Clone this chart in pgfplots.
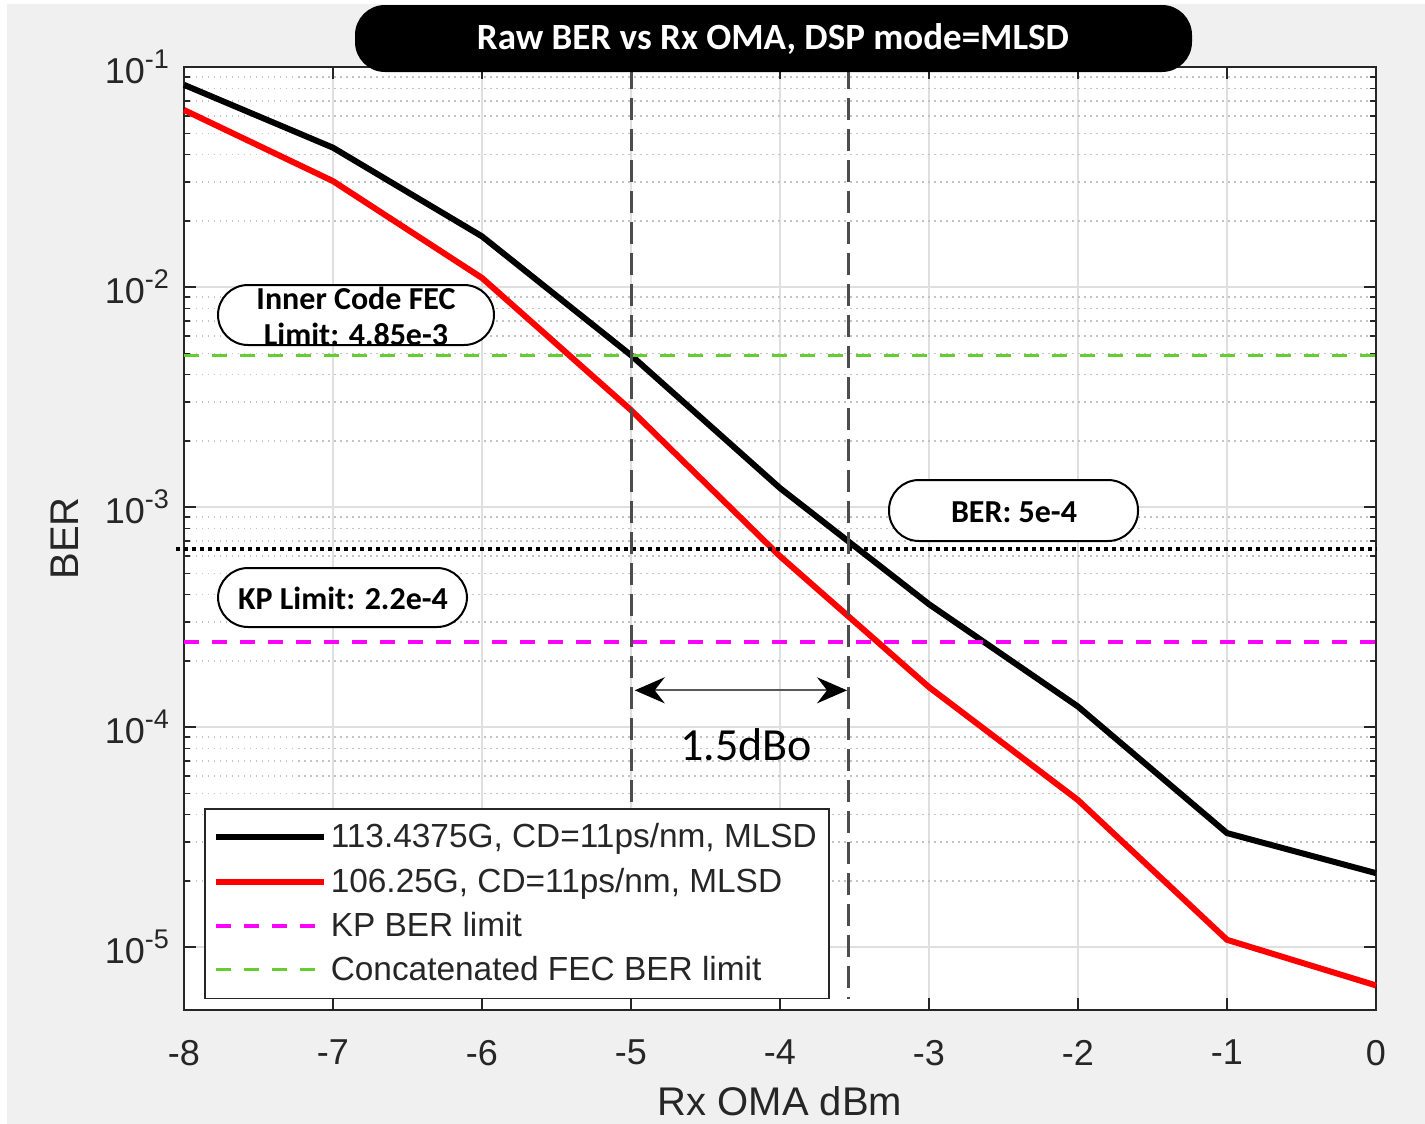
\documentclass[border=0pt]{standalone}
\usepackage{pgfplots}
\pgfplotsset{compat=1.18}
\usepackage{fontspec}
\setmainfont{Liberation Sans}
\newfontfamily\calfont{Carlito}
\usetikzlibrary{arrows.meta}
\definecolor{bg}{RGB}{240,240,240}
\definecolor{axgray}{RGB}{38,38,38}
\definecolor{gridmaj}{RGB}{223,223,223}
\definecolor{gridmin}{RGB}{195,195,195}
\definecolor{fecgreen}{RGB}{102,204,51}
\definecolor{kpmag}{RGB}{255,0,255}
\definecolor{vgray}{RGB}{77,77,77}
\newcommand\ee[1]{10\raisebox{0.42em}{\fontsize{13.5}{14}\selectfont #1}}

\begin{document}
\begin{tikzpicture}
\fill[white] (0,0) rectangle (712.5pt,-562pt);
\fill[bg] (3.5pt,-2pt) rectangle (712.5pt,-562pt);
\begin{axis}[
  at={(92pt,-505pt)}, anchor=south west,
  scale only axis, width=596pt, height=471.5pt,
  xmin=-8, xmax=0, ymode=log, ymin=5.18e-6, ymax=0.1,
  clip=false,
  axis background/.style={fill=white},
  axis line style={axgray, line width=1pt},
  xmajorgrids, ymajorgrids, yminorgrids,
  major grid style={gridmaj, line width=0.75pt},
  minor grid style={gridmin, line width=0.75pt, dash pattern=on 0.75pt off 2.25pt},
  tick align=inside, major tick length=6pt, minor tick length=3pt,
  tick style={axgray, line width=0.75pt},
  xtick={-8,-7,-6,-5,-4,-3,-2,-1,0},
  xticklabels={-8,-7,-6,-5,-4,-3,-2,-1,0},
  ytick={1e-5,1e-4,1e-3,1e-2,1e-1},
  yticklabels={\ee{-5},\ee{-4},\ee{-3},\ee{-2},\ee{-1}},
  ticklabel style={font=\fontsize{18}{20}\selectfont, text=axgray},
  xticklabel style={yshift=-11.5pt},
  yticklabel style={xshift=-4pt},
  xlabel={Rx OMA dBm}, ylabel={BER},
  label style={font=\fontsize{20}{22}\selectfont, text=axgray},
  xlabel style={at={(axis description cs:0.5,-0.097)}, anchor=center},
  ylabel style={at={(axis description cs:-0.0998,0.5)}, anchor=center},
  legend cell align=left,
  legend image code/.code={\draw[#1] (0pt,0pt) -- (54pt,0pt);},
  legend style={at={(axis description cs:0.0168,0.2142)}, anchor=north west,
    draw=axgray, line width=0.75pt, fill=white,
    font=\fontsize{16.7}{19}\selectfont, text=axgray,
    inner xsep=4pt, inner ysep=5.5pt, row sep=4.5pt},
]
\addplot[black, line width=3pt] coordinates {
(-8,0.083) (-7,0.043) (-6,0.017) (-5,4.9e-3) (-4,1.22e-3) (-3,3.62e-4) (-2,1.24e-4) (-1,3.3e-5) (0,2.17e-5)};
\addlegendentry{113.4375G, CD=11ps/nm, MLSD}
\addplot[red, line width=3pt] coordinates {
(-8,0.0638) (-7,0.0303) (-6,0.011) (-5,2.76e-3) (-4,5.98e-4) (-3,1.52e-4) (-2,4.66e-5) (-1,1.08e-5) (0,6.7e-6)};
\addlegendentry{106.25G, CD=11ps/nm, MLSD}
\addplot[kpmag, line width=2pt, dash pattern=on 7.5pt off 6.5pt] coordinates {(-8,2.43e-4) (0,2.43e-4)};
\addlegendentry{KP BER limit}
\addplot[fecgreen, line width=1.5pt, dash pattern=on 7.5pt off 6.5pt] coordinates {(-8,4.9e-3) (0,4.9e-3)};
\addlegendentry{Concatenated FEC BER limit}
\addplot[forget plot, black, line width=2pt, dash pattern=on 2pt off 2pt] coordinates {(-8.054,6.45e-4) (0,6.45e-4)};
\addplot[forget plot, vgray, line width=1.5pt, dash pattern=on 11pt off 4.5pt] coordinates {(-5,0.1) (-5,5.8e-6)};
\addplot[forget plot, vgray, line width=1.5pt, dash pattern=on 11pt off 4.5pt] coordinates {(-3.54,0.1) (-3.54,5.8e-6)};
\draw[{Stealth[length=15pt,width=13pt,inset=5pt,black]}-{Stealth[length=15pt,width=13pt,inset=5pt,black]}, line width=1pt, black!65]
  (axis cs:-4.975,1.47e-4) -- (axis cs:-3.55,1.47e-4);
\end{axis}
\begin{scope}[x=0.5pt,y=-0.5pt]
\fill[black, rounded corners=15pt] (355,5) rectangle (1192,72);
\node[text=white, font=\calfont\bfseries\fontsize{18.5}{20}\selectfont] at (773,39) {Raw BER vs Rx OMA, DSP mode=MLSD};
\draw[black, fill=white, line width=1pt, rounded corners=15pt] (218,285) rectangle (494,345);
\node[font=\calfont\bfseries\fontsize{16}{18}\selectfont] at (356,298) {Inner Code FEC};
\node[font=\calfont\bfseries\fontsize{16}{18}\selectfont] at (356,334) {Limit: 4.85e-3};
\draw[black, fill=white, line width=1pt, rounded corners=15pt] (218,568) rectangle (467,627);
\node[font=\calfont\bfseries\fontsize{16}{18}\selectfont] at (343,598) {KP Limit: 2.2e-4};
\draw[black, fill=white, line width=1pt, rounded corners=15pt] (889,480) rectangle (1138,541);
\node[font=\calfont\bfseries\fontsize{16}{18}\selectfont] at (1014,512) {BER: 5e-4};
\node[font=\calfont\fontsize{23}{26}\selectfont] at (746,745) {1.5dBo};
\end{scope}
\pgfresetboundingbox
\path (0,0) rectangle (712.5pt,-562pt);
\end{tikzpicture}
\end{document}
